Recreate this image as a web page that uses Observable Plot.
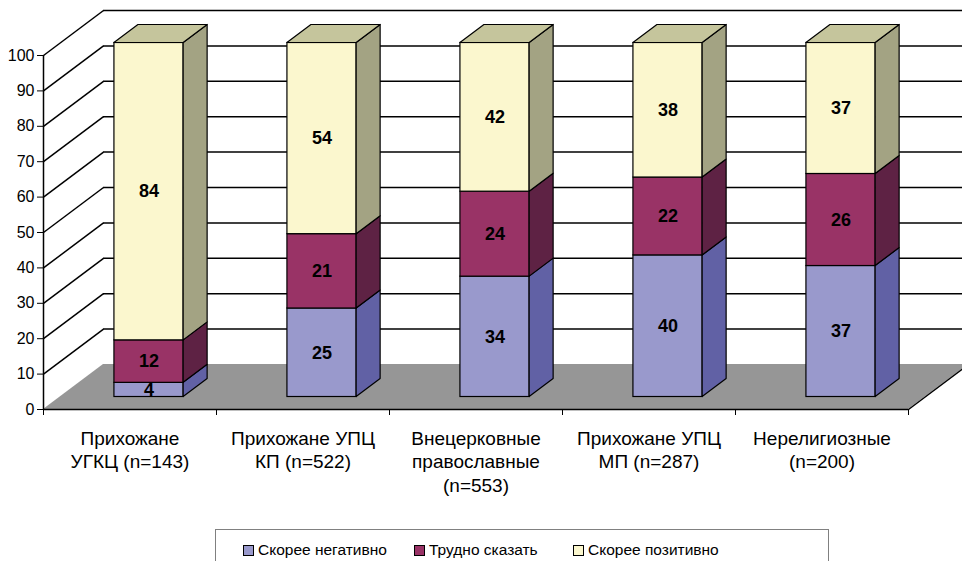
<!DOCTYPE html>
<html>
<head>
<meta charset="utf-8">
<script src="https://cdn.jsdelivr.net/npm/d3@7"></script>
<script src="https://cdn.jsdelivr.net/npm/@observablehq/plot@0.6"></script>
<style>
  body { margin: 0; background: #fff; font-family: "Liberation Sans", Arial, sans-serif; }
  #wrap { position: relative; width: 962px; height: 561px; overflow: hidden; }
  #legend { position: absolute; left: 215px; top: 529px; width: 614px; height: 42px; border: 1px solid #808080; box-sizing: border-box; }
  .item { position: absolute; top: 9px; height: 22px; display: flex; align-items: center; font-size: 15.5px; color: #000; white-space: nowrap; }
  .sw { width: 9px; height: 9px; border: 1.5px solid #000; margin-right: 4px; }
</style>
</head>
<body>
<div id="wrap">
  <div id="chart"></div>
  <div id="legend"></div>
</div>
<script>
// ---- data ----
const categories = [
  "Прихожане\nУГКЦ (n=143)",
  "Прихожане УПЦ\nКП (n=522)",
  "Внецерковные\nправославные\n(n=553)",
  "Прихожане УПЦ\nМП (n=287)",
  "Нерелигиозные\n(n=200)"
];
const negative = [4, 25, 34, 40, 37];
const unsure   = [12, 21, 24, 22, 26];
const positive = [84, 54, 42, 38, 37];
const seriesNames = ["Скорее негативно", "Трудно сказать", "Скорее позитивно"];
const yTicks = [0, 10, 20, 30, 40, 50, 60, 70, 80, 90, 100];

// ---- styles ----
const frontColors = ["#9999CC", "#993366", "#FBF7CE"];
const sideColors  = ["#6161A5", "#5E2244", "#A3A383"];
const topColor = "#C5C59C";
const floorColor = "#969696";
const FONT = "'Liberation Sans', Arial, sans-serif";

// ---- geometry ----
const W = 962, H = 522, mL = 43, mR = 54, mT = 55, mB = 113;
const nCat = categories.length;
const pxX = (W - mL - mR) / nCat;      // px per category unit
const pxY = (H - mT - mB) / 100;       // px per percent
const WX = 60 / pxX, WY = 45 / pxY;    // wall depth
const BX = 24 / pxX, BY = 18 / pxY;    // bar depth
const FY = 12.5 / pxY;                 // bar front offset
const B0 = 0.41, B1 = 0.81;            // bar front face within category

const seriesValues = [negative, unsure, positive];
const segs = [];
categories.forEach((c, i) => {
  let acc = 0;
  seriesValues.forEach((vals, s) => {
    const v = vals[i];
    segs.push({i, s, v, y1: acc, y2: acc + v});
    acc += v;
  });
});
const catTable = categories.map((c, i) => ({c, i}));

const barMarks = [];
seriesValues.forEach((vals, s) => {
  const ss = segs.filter(d => d.s === s);
  barMarks.push(Plot.rect(ss, {
    x1: d => d.i + B0, x2: d => d.i + B1,
    y1: d => d.y1 + FY, y2: d => d.y2 + FY,
    fill: frontColors[s], stroke: "#000", strokeWidth: 1.2
  }));
  const side = ss.flatMap(d => [
    {k: d.i, x: d.i + B1, y1: d.y1 + FY, y2: d.y2 + FY},
    {k: d.i, x: d.i + B1 + BX, y1: d.y1 + FY + BY, y2: d.y2 + FY + BY}
  ]);
  barMarks.push(Plot.areaY(side, {
    x: "x", y1: "y1", y2: "y2", z: "k",
    fill: sideColors[s], stroke: "#000", strokeWidth: 1.2
  }));
});
const tops = segs.filter(d => d.s === seriesValues.length - 1).flatMap(d => [
  {k: d.i, y: d.y2 + FY, x1: d.i + B0, x2: d.i + B1},
  {k: d.i, y: d.y2 + FY + BY, x1: d.i + B0 + BX, x2: d.i + B1 + BX}
]);
barMarks.push(Plot.areaX(tops, {
  y: "y", x1: "x1", x2: "x2", z: "k",
  fill: topColor, stroke: "#000", strokeWidth: 1.2
}));

const gridTicks = yTicks.filter(v => v > 0);

const chart = Plot.plot({
  width: W, height: H,
  marginLeft: mL, marginRight: mR, marginTop: mT, marginBottom: mB,
  style: {fontFamily: FONT, fontSize: "16px", background: "#fff", overflow: "visible"},
  x: {domain: [0, nCat], axis: null},
  y: {domain: [0, 100], axis: null},
  marks: [
    // back wall gridlines
    Plot.ruleY(gridTicks, {y: v => v + WY, x1: WX, x2: nCat + WX, stroke: "#000", strokeWidth: 1.5}),
    // side wall gridlines
    Plot.link(gridTicks, {x1: 0, y1: v => v, x2: WX, y2: v => v + WY, stroke: "#000", strokeWidth: 1.5}),
    // floor
    Plot.areaX([{y: 0, x1: 0, x2: nCat}, {y: WY, x1: WX, x2: nCat + WX}], {y: "y", x1: "x1", x2: "x2", fill: floorColor}),
    Plot.link([0], {x1: nCat, y1: 0, x2: nCat + WX, y2: WY, stroke: "#000", strokeWidth: 1.5}),
    // x axis
    Plot.ruleY([0], {x1: 0, x2: nCat, stroke: "#000", strokeWidth: 1.5}),
    Plot.ruleX(d3.range(nCat + 1), {x: d => d, y1: 0, y2: -6 / pxY, stroke: "#000", strokeWidth: 1}),
    // y axis
    Plot.ruleX([0], {y1: 0, y2: 100, stroke: "#000", strokeWidth: 1.5}),
    Plot.ruleY(yTicks, {y: d => d, x1: 0, x2: -6 / pxX, stroke: "#000", strokeWidth: 1}),
    Plot.text(yTicks, {x: 0, y: d => d, text: d => String(d), dx: -9, textAnchor: "end", fontSize: 16, fill: "#000", fontFamily: FONT}),
    // bars
    ...barMarks,
    // value labels
    Plot.text(segs, {x: d => d.i + (B0 + B1) / 2, y: d => (d.y1 + d.y2) / 2 + FY, text: d => String(d.v),
      fontSize: 18, fontWeight: "bold", fill: "#000", fontFamily: FONT}),
    // category labels
    Plot.text(catTable, {x: d => d.i + 0.5, y: 0, text: "c", lineAnchor: "top", dy: 19, fontSize: 19, lineHeight: 1.23, fill: "#000", fontFamily: FONT})
  ]
});
document.getElementById("chart").appendChild(chart);

// legend
const legend = document.getElementById("legend");
const itemLeft = [27, 198, 357];
seriesNames.forEach((name, s) => {
  const it = document.createElement("div");
  it.className = "item";
  it.style.left = itemLeft[s] + "px";
  const sw = document.createElement("div");
  sw.className = "sw";
  sw.style.background = frontColors[s];
  it.appendChild(sw);
  it.appendChild(document.createTextNode(name));
  legend.appendChild(it);
});
</script>
</body>
</html>
